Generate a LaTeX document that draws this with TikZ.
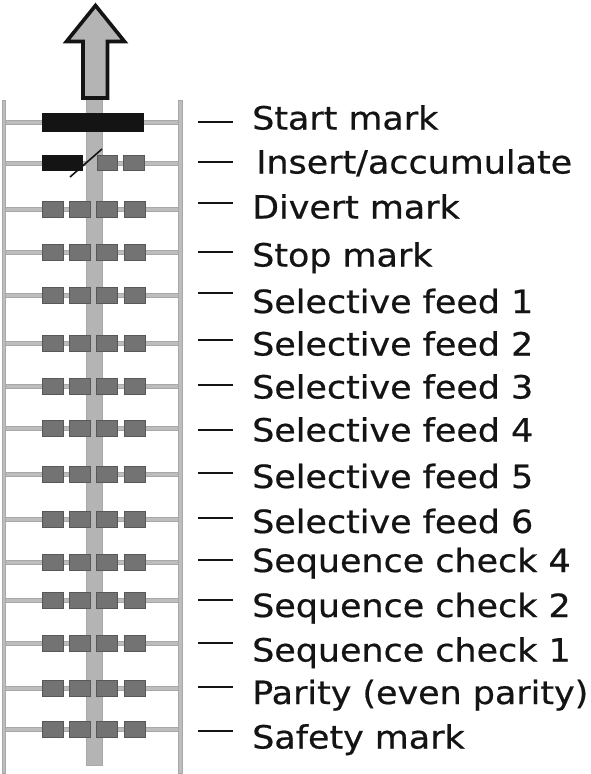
\documentclass[tikz,border=0pt]{standalone}
\usepackage{fontspec}
\setmainfont[FakeStretch=1.09,FakeBold=0.6]{DejaVu Sans}
\definecolor{railgray}{HTML}{BDBDBD}
\definecolor{railedge}{HTML}{A8A8A8}
\definecolor{bargray}{HTML}{B4B4B4}
\definecolor{boxgray}{HTML}{737373}
\definecolor{boxedge}{HTML}{585858}
\definecolor{inkblack}{HTML}{141414}
\begin{document}
\begin{tikzpicture}[x=1pt,y=-1pt,
  railst/.style={fill=railgray,draw=railedge,line width=0.5pt},
  rungst/.style={fill=railgray,draw=railedge,line width=0.4pt},
  barst/.style={fill=bargray,draw=railedge,line width=0.4pt},
  boxst/.style={fill=boxgray,draw=boxedge,line width=0.8pt},
  blackst/.style={fill=inkblack,draw=inkblack,line width=0.6pt},
  dashln/.style={draw=inkblack,line width=1.8pt},
  lab/.style={anchor=base west,inner sep=0pt,font=\fontsize{32}{38}\selectfont,text=inkblack}]
\useasboundingbox (0,0) rectangle (591,774);
\fill[white] (0,0) rectangle (591,774);
% rails
\filldraw[railst] (2,100) rectangle (5.5,773);
\filldraw[railst] (178.3,100) rectangle (181.8,773);
% rungs
\foreach \y in {122,163,209,252,295,343,386,428,474,519,562,600,643,688,729}{
  \filldraw[rungst] (5.5,\y-2.2) rectangle (178.3,\y+2.2);
}
% centre bar
\filldraw[barst] (86.5,96) rectangle (101.8,765);
% start mark
\filldraw[blackst] (42,113.5) rectangle (143,131);
% insert/accumulate row
\filldraw[blackst] (42,155.5) rectangle (82,170.5);
\filldraw[boxst] (97,155.5) rectangle (117.5,170.5);
\filldraw[boxst] (123.5,155.5) rectangle (144.5,170.5);
\draw[inkblack,line width=1.6pt] (70,177) -- (102,149);
% data rows
\foreach \y in {209,252,295,343,386,428,474,519,562,600,643,688,729}{
  \filldraw[boxst] (42,\y-8) rectangle (63,\y+8);
  \filldraw[boxst] (69,\y-8) rectangle (90,\y+8);
  \filldraw[boxst] (96.5,\y-8) rectangle (117.5,\y+8);
  \filldraw[boxst] (124.5,\y-8) rectangle (145.5,\y+8);
}
% arrow
\coordinate (tip) at (95.5,5.5);
\coordinate (sbl) at (83,98);
\coordinate (sbr) at (107.5,98);
\filldraw[fill=bargray,draw=inkblack,line width=3.6pt,line join=miter,miter limit=10]
  (tip) -- (124.5,41.5) -- (107.5,41.5) -- (sbr) -- (sbl) -- (83,41.5) -- (66.5,41.5) -- cycle;
% labels
\node[lab] (l1) at (252,129.5) {Start mark};
\node[lab] (l2) at (256,173.5) {Insert/accumulate};
\node[lab] (l3) at (252,218.5) {Divert mark};
\node[lab] (l4) at (252,266.5) {Stop mark};
\node[lab] (l5) at (252,313) {Selective feed 1};
\node[lab] (l6) at (252,355.5) {Selective feed 2};
\node[lab] (l7) at (252,398.5) {Selective feed 3};
\node[lab] (l8) at (252,441.5) {Selective feed 4};
\node[lab] (l9) at (252,488) {Selective feed 5};
\node[lab] (l10) at (252,533) {Selective feed 6};
\node[lab] (l11) at (252,572) {Sequence check 4};
\node[lab] (l12) at (252,617) {Sequence check 2};
\node[lab] (l13) at (252,661.5) {Sequence check 1};
\node[lab] (l14) at (252,704) {Parity (even parity)};
\node[lab] (l15) at (252,748.5) {Safety mark};
% dashes
\foreach \y in {121.7,161.7,203.3,251.7,293.3,340,385,430,473.3,518.3,560,600,643.3,687.3,730.7}{
  \draw[dashln] (198,\y) -- (233,\y);
}
\end{tikzpicture}
\end{document}
